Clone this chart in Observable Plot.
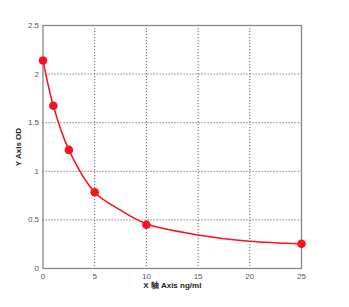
<!DOCTYPE html>
<html><head><meta charset="utf-8">
<script src="https://cdn.jsdelivr.net/npm/d3@7"></script>
<script src="https://cdn.jsdelivr.net/npm/@observablehq/plot@0.6"></script>
<style>body{margin:0;background:#fff;} svg{font-family:"Liberation Sans",Arial,sans-serif;}</style>
</head><body><div id="chart"></div>
<script>
// Standard points
const conc = [0, 1, 2.5, 5, 10, 25];
const od = [2.14, 1.675, 1.22, 0.785, 0.45, 0.255];
// Fitted curve
const curveX = [0, 1, 2.5, 5, 7.5, 10, 15, 20, 25];
const curveY = [2.14, 1.675, 1.22, 0.785, 0.6, 0.46, 0.345, 0.28, 0.255];
const xTicks = [0, 5, 10, 15, 20, 25];
const yTicks = [0, 0.5, 1, 1.5, 2, 2.5];

const pts = conc.map((x, i) => ({x, y: od[i]}));
const fit = curveX.map((x, i) => ({x, y: curveY[i]}));

const chart = Plot.plot({
  width: 349, height: 307,
  marginLeft: 42.5, marginRight: 48, marginTop: 25, marginBottom: 39,
  style: {fontSize: "8px", color: "#555", background: "#fff"},
  x: {domain: [0, 25], ticks: xTicks, tickSize: 0, tickPadding: 5, tickFormat: d => String(d),
      label: "X 轴 Axis ng/ml", labelAnchor: "center", labelOffset: 19, labelArrow: "none"},
  y: {domain: [0, 2.5], ticks: yTicks, tickSize: 0, tickPadding: 4, tickFormat: d => String(d),
      label: "Y Axis OD", labelAnchor: "center", labelOffset: 28, labelArrow: "none"},
  marks: [
    Plot.gridX(xTicks.filter(d => d > 0 && d < 25), {stroke: "#555", strokeOpacity: 0.9, strokeDasharray: "1.2,1.8"}),
    Plot.gridY(yTicks.filter(d => d > 0 && d < 2.5), {stroke: "#555", strokeOpacity: 0.9, strokeDasharray: "1.2,1.8"}),
    Plot.frame({stroke: "#888", strokeWidth: 1.3}),
    Plot.line(fit, {x: "x", y: "y", curve: "catmull-rom", stroke: "#ff1020", strokeWidth: 1.5}),
    Plot.dot(pts, {x: "x", y: "y", r: 4.3, fill: "#ff1020", stroke: "none"})
  ]
});
d3.select(chart).selectAll("[aria-label$='axis label'] text, [aria-label$='axis label']")
  .style("font-weight", "bold").style("fill", "#222");
document.getElementById("chart").append(chart);
</script></body></html>
